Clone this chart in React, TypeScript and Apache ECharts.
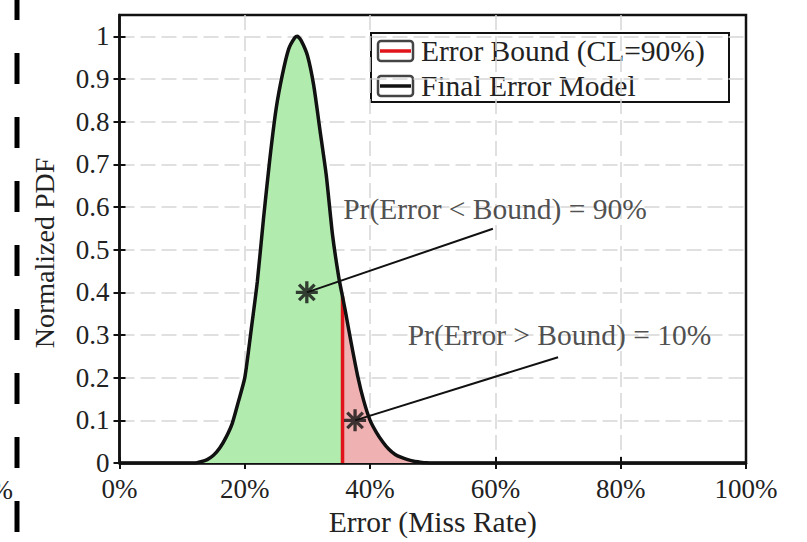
import React, { useEffect, useRef } from "react";
import * as echarts from "echarts";

// Error (miss rate, %) and the normalized PDF of the final error model
const errorPct = [0, 10, 12, 13, 14, 15, 16, 17, 18, 19, 20, 21, 22, 23, 24, 25, 26, 27, 28, 28.4, 29, 30, 31, 32, 33, 34, 35, 35.6, 36, 37, 38, 39, 40, 41, 42, 43, 44, 45, 46, 47, 48, 49, 50, 60, 100];
const pdf = [0, 0, 0, 0.003, 0.008, 0.018, 0.035, 0.06, 0.093, 0.145, 0.2, 0.31, 0.425, 0.575, 0.713, 0.83, 0.91, 0.97, 0.997, 1.0, 0.99, 0.955, 0.885, 0.78, 0.675, 0.535, 0.435, 0.39, 0.36, 0.28, 0.205, 0.145, 0.1, 0.072, 0.05, 0.032, 0.02, 0.013, 0.008, 0.004, 0.002, 0.0005, 0, 0, 0];

// Error bound at 90% confidence level
const boundPct = 35.6;

// Axis ticks
const xTicks = [0, 20, 40, 60, 80, 100];
const yTicks = [0, 0.1, 0.2, 0.3, 0.4, 0.5, 0.6, 0.7, 0.8, 0.9, 1];

// Annotations
const markerX = [29.9, 37.6];
const markerY = [0.4, 0.1];
const leaderEndX = [59.6, 70.0];
const leaderEndY = [0.549, 0.248];
const noteText = ["Pr(Error < Bound) = 90%", "Pr(Error > Bound) = 10%"];
const noteX = [35.7, 46.0];
const noteY = [0.596, 0.299];

const legendNames = ["Error Bound (CL=90%)", "Final Error Model"];

const FONT = "'Liberation Serif', 'Times New Roman', serif";
const TXT = "#222";

const ASTERISK =
  "path://M0,8.5 L20,8.5 L20,11.5 L0,11.5 Z M8.5,0 L11.5,0 L11.5,20 L8.5,20 Z M3.99,1.87 L18.13,16.01 L16.01,18.13 L1.87,3.99 Z M16.01,1.87 L18.13,3.99 L3.99,18.13 L1.87,16.01 Z";

export default function App() {
  const ref = useRef<HTMLDivElement>(null);
  useEffect(() => {
    document.body.style.margin = "0";
    const chart = echarts.init(ref.current!, undefined, { renderer: "svg" });
    const pts = errorPct.map((x, i) => [x, pdf[i]]);
    const green = pts.filter((p) => p[0] <= boundPct);
    const pink = pts.filter((p) => p[0] >= boundPct);
    const boundVal = pdf[errorPct.indexOf(boundPct)];

    const gridL = 119.5, gridR = 61, gridT = 15, gridB = 79;
    const axisCommon = {
      type: "value" as const,
      axisLine: { show: true, onZero: false, lineStyle: { color: "#111", width: 2.5 } },
      axisLabel: { fontFamily: FONT, fontSize: 27, color: TXT },
    };
    const split = { show: true, showMinLine: false, showMaxLine: false, lineStyle: { color: "#d6d6d6", width: 1.5, type: [15, 6] } };

    chart.setOption({
      animation: false,
      backgroundColor: "#fff",
      grid: {
        left: gridL, right: gridR, top: gridT, bottom: gridB,
        containLabel: false, outerBoundsMode: "none",
        show: true, borderColor: "#111", borderWidth: 2.5, backgroundColor: "transparent",
      },
      xAxis: [
        {
          ...axisCommon,
          min: 0, max: 100, interval: 20,
          axisTick: { show: true, length: 6, lineStyle: { color: "#111", width: 2 } },
          axisLabel: { ...axisCommon.axisLabel, margin: 12, formatter: (v: number) => (xTicks.includes(v) ? v + "%" : "") },
          splitLine: split,
          name: "Error (Miss Rate)",
          nameLocation: "middle",
          nameGap: 44,
          nameTextStyle: { fontFamily: FONT, fontSize: 29.5, color: TXT },
        },
        {
          type: "value", min: 0, max: 100, interval: 20, position: "bottom",
          axisLine: { show: false },
          axisTick: { show: true, inside: true, length: 6, lineStyle: { color: "#111", width: 2 } },
          axisLabel: { show: false },
          splitLine: { show: false },
        },
      ],
      yAxis: [
        {
          ...axisCommon,
          min: 0, max: 1.05, interval: 0.1,
          axisTick: { show: true, length: 6, lineStyle: { color: "#111", width: 2 } },
          axisLabel: {
            ...axisCommon.axisLabel, margin: 10, showMaxLabel: false,
            formatter: (v: number) => {
              const r = Math.round(v * 10) / 10;
              return yTicks.includes(r) && Math.abs(r - v) < 1e-6 ? String(r) : "";
            },
          },
          splitLine: split,
        },
        {
          type: "value", min: 0, max: 1.05, interval: 0.1, position: "left",
          axisLine: { show: false },
          axisTick: { show: true, inside: true, length: 6, lineStyle: { color: "#111", width: 2 } },
          axisLabel: { show: false },
          splitLine: { show: false },
        },
      ],
      series: [
        {
          type: "line", data: green, smooth: 0.2, symbol: "none", z: 2,
          lineStyle: { width: 0, opacity: 0 },
          areaStyle: { color: "#b1ecae", opacity: 1 },
        },
        {
          type: "line", data: pink, smooth: 0.2, symbol: "none", z: 2,
          lineStyle: { width: 0, opacity: 0 },
          areaStyle: { color: "#efb1b1", opacity: 1 },
        },
        {
          name: legendNames[0],
          type: "line", data: [[boundPct, 0], [boundPct, boundVal]], symbol: "none", z: 3,
          lineStyle: { color: "#e0141a", width: 3.5 },
        },
        {
          name: legendNames[1],
          type: "line", data: pts, smooth: 0.2, symbol: "none", z: 4,
          lineStyle: { color: "#111", width: 3.5 },
        },
        ...markerX.map((mx, i) => ({
          type: "line", data: [[mx, markerY[i]], [leaderEndX[i], leaderEndY[i]]], symbol: "none", z: 5,
          lineStyle: { color: "#111", width: 2 },
        })),
        {
          type: "scatter", z: 6,
          data: markerX.map((mx, i) => [mx, markerY[i]]),
          symbol: ASTERISK, symbolSize: 22,
          itemStyle: { color: "#111" },
        },
        {
          type: "scatter", z: 6,
          data: noteX.map((nx, i) => ({ value: [nx, noteY[i]], name: noteText[i] })),
          symbolSize: 0,
          label: {
            show: true, position: "right", distance: 0,
            formatter: (p: any) => p.name,
            fontFamily: FONT, fontSize: 29.5, color: TXT,
          },
        },
      ],
      graphic: [
        // dashed divider at the left edge
        {
          type: "line", shape: { x1: 17, y1: -11, x2: 17, y2: 542 },
          style: { stroke: "#000", lineWidth: 5, lineDash: [31, 33] },
        },
        {
          type: "text", x: 13, y: 490,
          style: { text: "100%", font: `27px ${FONT}`, fill: TXT, textAlign: "right", textVerticalAlign: "middle" },
        },
        {
          type: "text", x: 44, y: 253, rotation: Math.PI / 2,
          style: { text: "Normalized PDF", font: `28px ${FONT}`, fill: TXT, textAlign: "center", textVerticalAlign: "middle" },
        },
        // legend
        {
          type: "group", z: 100,
          children: [
            { type: "rect", shape: { x: 371, y: 33, width: 358, height: 69 }, style: { fill: "#fff", stroke: "#111", lineWidth: 2 } },
            { type: "rect", shape: { x: 378, y: 41, width: 35, height: 20, r: 3 }, style: { fill: "#fff", stroke: "#444", lineWidth: 2.5 } },
            { type: "line", shape: { x1: 380, y1: 51, x2: 411, y2: 51 }, style: { stroke: "#e0141a", lineWidth: 3.5 } },
            { type: "rect", shape: { x: 378, y: 76, width: 35, height: 20, r: 3 }, style: { fill: "#fff", stroke: "#444", lineWidth: 2.5 } },
            { type: "line", shape: { x1: 380, y1: 86, x2: 411, y2: 86 }, style: { stroke: "#111", lineWidth: 3.5 } },
            { type: "text", x: 421, y: 51, style: { text: legendNames[0], font: `29.5px ${FONT}`, fill: TXT, textVerticalAlign: "middle" } },
            { type: "text", x: 421, y: 86, style: { text: legendNames[1], font: `29.5px ${FONT}`, fill: TXT, textVerticalAlign: "middle" } },
          ],
        },
      ],
    });
    return () => chart.dispose();
  }, []);
  return <div ref={ref} style={{ position: "fixed", left: 0, top: 0, width: 807, height: 542 }} />;
}
